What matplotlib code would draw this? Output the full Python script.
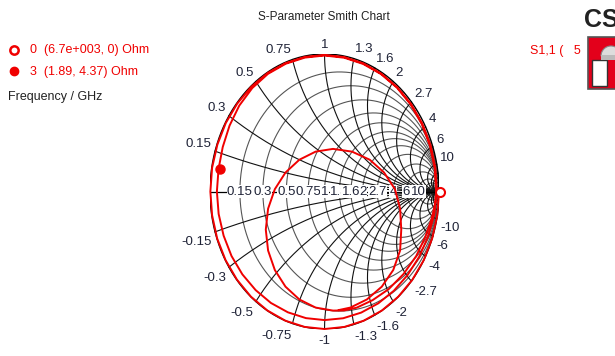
import numpy as np
import matplotlib.pyplot as plt
from matplotlib.patches import Rectangle, Wedge

plt.rcParams['font.family'] = ['Liberation Sans', 'DejaVu Sans']

# S11 spiral part: magnitude and unwrapped phase (deg), 0 GHz .. ~3.8 GHz
s11_phase = [0, -10, -20, -30, -40, -50, -60, -70, -80, -90, -100, -110,
             -120, -130, -140, -150, -160, -170, -180, -190, -200, -210, -220, -230,
             -240, -250, -260, -270, -280, -290, -300, -310, -320, -330, -340, -350,
             -360, -370, -380, -390, -400, -410, -420, -430, -440, -450, -460, -470,
             -480, -490, -500, -510, -520, -530, -540, -550, -560, -570, -580, -590,
             -600, -610, -620, -630, -640, -650, -660, -670, -680, -690, -700, -710,
             -720]
s11_mag = [1.000, 1.000, 1.000, 1.000, 1.000, 1.000, 1.000, 1.000, 1.000, 1.000, 1.000, 1.000,
           0.999, 0.999, 0.998, 0.998, 0.998, 0.997, 0.997, 0.997, 0.996, 0.996, 0.995, 0.995,
           0.995, 0.994, 0.994, 0.993, 0.993, 0.992, 0.990, 0.989, 0.988, 0.986, 0.985, 0.983,
           0.982, 0.972, 0.962, 0.953, 0.946, 0.942, 0.939, 0.937, 0.936, 0.935, 0.935, 0.935,
           0.936, 0.936, 0.937, 0.938, 0.938, 0.939, 0.940, 0.940, 0.946, 0.958, 0.972, 0.982,
           0.988, 0.989, 0.989, 0.989, 0.988, 0.987, 0.986, 0.985, 0.983, 0.981, 0.979, 0.977,
           0.975]

# resonance loop, ~3.8 GHz .. 5 GHz (real / imag of S11)
loop_re = [0.965, 0.935, 0.880, 0.800, 0.690, 0.560, 0.420, 0.280, 0.170,
           0.074, -0.078, -0.220, -0.341, -0.434, -0.493, -0.513, -0.493, -0.434, -0.341,
           -0.220, -0.078, 0.074, 0.240, 0.395, 0.520, 0.615, 0.660, 0.670, 0.660,
           0.600, 0.500, 0.370, 0.226, 0.125]
loop_im = [-0.090, -0.200, -0.330, -0.470, -0.600, -0.710, -0.790, -0.845, -0.865,
           -0.866, -0.844, -0.785, -0.692, -0.571, -0.429, -0.277, -0.125, 0.017, 0.138,
           0.231, 0.290, 0.310, 0.290, 0.231, 0.138, 0.017, -0.125, -0.277, -0.429,
           -0.571, -0.692, -0.785, -0.844, -0.862]

# markers (frequency in GHz, impedance in Ohm)
marker_freq = ["0", "3"]
marker_R = [6700.0, 1.89]
marker_X = [0.0, 4.37]
marker_text = ["(6.7e+003, 0) Ohm", "(1.89, 4.37) Ohm"]
z0 = 50.0

r_vals = [0.15, 0.3, 0.5, 0.75, 1, 1.3, 1.6, 2, 2.7, 4, 6, 10]
r_labels = ["0.15", "0.3", "0.5", "0.75", "1", "1.3", "1.6", "2", "2.7", "4", "6", "10"]
x_vals = [0.15, 0.3, 0.5, 0.75, 1, 1.3, 1.6, 2, 2.7, 4, 6, 10]
x_labels = ["0.15", "0.3", "0.5", "0.75", "1", "1.3", "1.6", "2", "2.7", "4", "6", "10"]
extra_vals = [15, 20, 30, 50]

label_col = '#1e2236'
red = '#f00000'

fig = plt.figure(figsize=(6.15, 3.56), dpi=100)
ax = fig.add_axes([0.3415, 0.0758, 0.3724, 0.7725])
ax.set_xlim(-1, 1)
ax.set_ylim(-1, 1)
ax.axis('off')

def gam(z):
    return (z - 1) / (z + 1)

# grid: constant resistance circles
t = np.linspace(-np.pi / 2 + 1e-4, np.pi / 2 - 1e-4, 2001)
for r in r_vals + extra_vals:
    g = gam(r + 1j * np.tan(t))
    ax.plot(g.real, g.imag, color='#555555', lw=0.8, zorder=1)
# grid: constant reactance arcs
u = np.tan(np.linspace(0, np.pi / 2 - 1e-4, 2001))
for x in x_vals + extra_vals:
    for s in (1, -1):
        g = gam(u + 1j * s * x)
        ax.plot(g.real, g.imag, color='#111111', lw=0.8, zorder=1)

a = np.linspace(0, 2 * np.pi, 400)
ax.plot(np.cos(a), np.sin(a), color='black', lw=1.0, zorder=1)
ax.plot([-1, 1], [0, 0], color='black', lw=0.9, zorder=1)

# resistance labels on the real axis
for r, lab in zip(r_vals, r_labels):
    ax.text((r - 1) / (r + 1), 0, lab, fontsize=9.5, color=label_col, ha='center', va='center',
            zorder=2, bbox=dict(facecolor='white', edgecolor='none', pad=0.3))

# reactance labels round the rim
for x, lab in zip(x_vals, x_labels):
    for s in (1, -1):
        g = gam(1j * s * x)
        c, sn = np.cos(np.angle(g)), np.sin(np.angle(g))
        ha = 'left' if c > 0.25 else ('right' if c < -0.25 else 'center')
        va = 'bottom' if sn > 0 else 'top'
        txt = lab if s > 0 else '-' + lab
        dy = 2.5 * sn if s > 0 else 2.5 * sn - 2
        ax.annotate(txt, (g.real, g.imag), xytext=(2.5 * c, dy), textcoords='offset points',
                    fontsize=9.5, color=label_col, ha=ha, va=va, annotation_clip=False)

# S11 trace
ph = np.radians(s11_phase)
sp = np.array(s11_mag) * np.exp(1j * ph)
tr_re = list(sp.real) + loop_re
tr_im = list(sp.imag) + loop_im
ax.plot(tr_re, tr_im, color=red, lw=1.4, zorder=3, clip_on=False, solid_joinstyle='round')

mg = [gam(complex(R, X) / z0) for R, X in zip(marker_R, marker_X)]
ax.plot(mg[0].real + 0.02, mg[0].imag, 'o', ms=6.5, mfc='white', mec=red, mew=1.5, zorder=4, clip_on=False)
ax.plot(mg[1].real, mg[1].imag, 'o', ms=6.5, mfc=red, mec=red, zorder=4, clip_on=False)

# overlay in pixel coordinates for texts and logo
ov = fig.add_axes([0, 0, 1, 1])
ov.set_xlim(0, 615)
ov.set_ylim(356, 0)
ov.axis('off')
ov.patch.set_alpha(0)

ov.text(324, 17, "S-Parameter Smith Chart", fontsize=8.5, color='#222222', ha='center', va='center')
ov.plot(14, 50, 'o', ms=6, mfc='white', mec=red, mew=1.8)
ov.plot(14, 71, 'o', ms=6, mfc=red, mec=red)
ov.text(30, 50, marker_freq[0] + "  " + marker_text[0], fontsize=9, color=red, va='center')
ov.text(30, 72, marker_freq[1] + "  " + marker_text[1], fontsize=9, color=red, va='center')
ov.text(8, 97, "Frequency / GHz", fontsize=9, color='#222222', va='center')
ov.text(530, 51, "S1,1 (   5", fontsize=9, color=red, va='center')

# CST logo (cut at the right edge)
ov.text(584, 20, "CST", fontsize=18, fontweight='bold', color='#222222', va='center', clip_on=True)
ov.add_patch(Rectangle((588, 37), 30, 52, facecolor='#e3001b', edgecolor='#555555', lw=1.2))
ov.add_patch(Rectangle((592, 60), 15, 26, facecolor='white', edgecolor='#333333', lw=1))
ov.add_patch(Wedge((611, 56), 10, 180, 360, facecolor='#dddddd', edgecolor='#888888', lw=0.8))
ov.add_patch(Rectangle((601, 55), 20, 5, facecolor='#bbbbbb', edgecolor='none'))

fig.savefig('out.png', dpi=100)
